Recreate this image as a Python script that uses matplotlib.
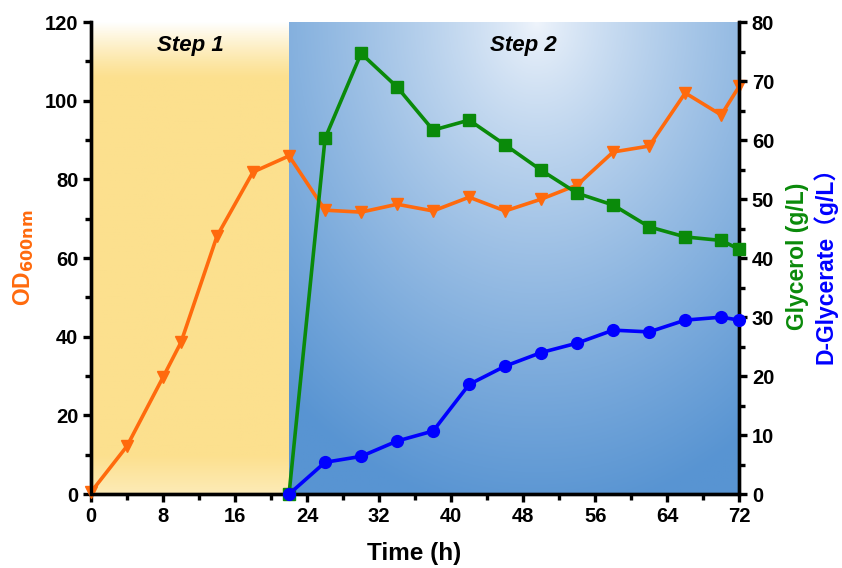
import numpy as np
import matplotlib
matplotlib.use("Agg")
import matplotlib.pyplot as plt
from matplotlib.ticker import MultipleLocator

plt.rcParams['font.family'] = ['Liberation Sans', 'Noto Sans CJK SC', 'DejaVu Sans']
plt.rcParams['font.weight'] = 'bold'

# Data
time_od = [0, 4, 8, 10, 14, 18, 22, 26, 30, 34, 38, 42, 46, 50, 54, 58, 62, 66, 70, 72]
od600 = [0.5, 12.2, 29.7, 38.6, 65.6, 81.9, 86, 72.2, 71.7, 73.7, 72, 75.5, 72, 75, 78.6, 87, 88.5, 102, 96.4, 103.7]
time_s2 = [22, 26, 30, 34, 38, 42, 46, 50, 54, 58, 62, 66, 70, 72]
glycerol = [0, 60.3, 74.7, 69, 61.7, 63.4, 59.2, 54.9, 51, 49, 45.3, 43.6, 43, 41.5]
glycerate = [0, 5.4, 6.4, 9, 10.7, 18.6, 21.7, 24, 25.6, 27.8, 27.5, 29.5, 30, 29.5]
x_ticks = [0, 8, 16, 24, 32, 40, 48, 56, 64, 72]
step_split = 22

fig = plt.figure(figsize=(8.42, 5.68), dpi=100)
ax = fig.add_axes([0.108, 0.130, 0.770, 0.831])
ax2 = ax.twinx()

# Backgrounds
ny, nx = 200, 200
v = np.linspace(0, 1, ny)[:, None]  # 0 bottom .. 1 top
yellow = np.array([252, 224, 142]) / 255
white = np.array([1.0, 1.0, 1.0])
fade_top = np.clip((v - 0.88) / 0.12, 0, 1) ** 1.2
fade_bot = np.clip((0.08 - v) / 0.08, 0, 1) * 0.35
f = np.maximum(fade_top, fade_bot)
img1 = yellow[None, None, :] * (1 - f[..., None]) + white[None, None, :] * f[..., None]
img1 = np.repeat(img1, 2, axis=1)
ax.imshow(img1, extent=[0, step_split, 0, 120], origin='lower', aspect='auto', zorder=0)
u = np.linspace(0, 1, nx)[None, :]
blue = np.array([88, 148, 210]) / 255
lightc = np.array([240, 245, 252]) / 255
t = np.sqrt(((u - 0.55) / 0.85) ** 2 + ((1 - v) / 1.05) ** 2)
t = np.clip(t, 0, 1) ** 0.8
img2 = lightc[None, None, :] * (1 - t[..., None]) + blue[None, None, :] * t[..., None]
ax.imshow(img2, extent=[step_split, 72, 0, 120], origin='lower', aspect='auto', zorder=0)

orange = '#FF6A0D'
green = '#0A8A0A'
blue_l = '#0000FF'

ax.plot(time_od, od600, color=orange, lw=2.6, marker='v', ms=8.5, zorder=3, clip_on=False)
ax2.plot(time_s2, glycerol, color=green, lw=2.6, marker='s', ms=8.5, zorder=3, clip_on=False)
ax2.plot(time_s2, glycerate, color=blue_l, lw=2.6, marker='o', ms=8.5, zorder=4, clip_on=False)

ax.set_xlim(0, 72)
ax.set_ylim(0, 120)
ax2.set_ylim(0, 80)
ax.set_xticks(x_ticks)
ax.xaxis.set_minor_locator(MultipleLocator(4))
ax.yaxis.set_major_locator(MultipleLocator(20))
ax.yaxis.set_minor_locator(MultipleLocator(10))
ax2.yaxis.set_major_locator(MultipleLocator(10))
ax2.yaxis.set_minor_locator(MultipleLocator(5))

for a in (ax, ax2):
    for s in a.spines.values():
        s.set_linewidth(2.4)
    a.spines['top'].set_visible(False)
    a.tick_params(which='major', length=6, width=2.4, labelsize=14.5, pad=3)
    a.tick_params(which='minor', length=4, width=2.4)
    for lab in a.get_xticklabels() + a.get_yticklabels():
        lab.set_fontweight('bold')

fig.text(0.492, 0.026, 'Time (h)', fontsize=17.5, fontweight='bold', ha='center', va='center')
fig.text(0.028, 0.546, r'OD$_{\mathbf{600nm}}$', rotation=90, fontsize=16.5, fontweight='bold',
         color=orange, ha='center', va='center')
fig.text(0.947, 0.548, 'Glycerol (g/L)', rotation=90, color=green, fontsize=16.5, fontweight='bold',
         ha='center', va='center')
fig.text(0.980, 0.542, 'D-Glycerate（g/L）', rotation=90, color=blue_l, fontsize=16.5, fontweight='bold',
         ha='center', va='center')

ax.text(11, 114, 'Step 1', fontsize=16, fontweight='bold', style='italic', ha='center', va='center', zorder=5)
ax.text(48, 114, 'Step 2', fontsize=16, fontweight='bold', style='italic', ha='center', va='center', zorder=5)

fig.savefig('out.png', dpi=100)
